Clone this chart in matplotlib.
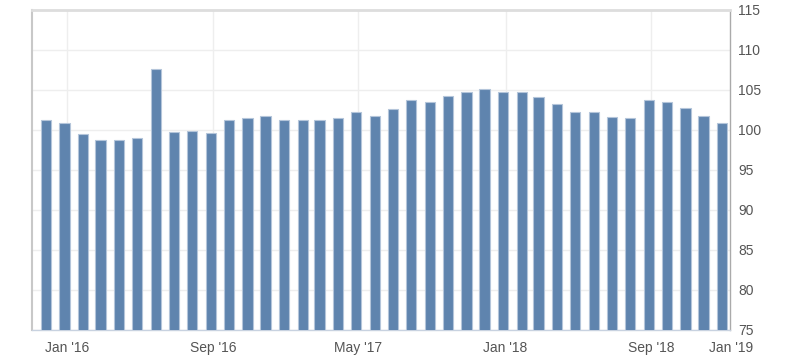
import matplotlib
matplotlib.use("Agg")
import matplotlib.pyplot as plt
import matplotlib.dates as mdates
import matplotlib.transforms as mtransforms
import numpy as np
import datetime as dt

plt.rcParams['font.family'] = ['Liberation Sans', 'DejaVu Sans']

# Monthly values, Dec 2015 .. Jan 2019
months = [dt.date(2015, 12, 1)] + [dt.date(2016 + (m // 12), m % 12 + 1, 1) for m in range(37)]
values = [101.2, 100.9, 99.5, 98.7, 98.7, 99.0, 107.6, 99.8, 99.9, 99.6,
          101.2, 101.5, 101.7, 101.2, 101.2, 101.2, 101.5, 102.3, 101.8, 102.6,
          103.7, 103.5, 104.3, 104.8, 105.1, 104.8, 104.8, 104.1, 103.3, 102.3,
          102.3, 101.6, 101.5, 103.7, 103.5, 102.7, 101.8, 100.9]
tick_dates = [dt.date(2016, 1, 1), dt.date(2016, 9, 1), dt.date(2017, 5, 1),
              dt.date(2018, 1, 1), dt.date(2018, 9, 1), dt.date(2019, 1, 1)]
tick_labels = ["Jan '16", "Sep '16", "May '17", "Jan '18", "Sep '18", "Jan '19"]
y_ticks = [75, 80, 85, 90, 95, 100, 105, 110, 115]

fig = plt.figure(figsize=(8, 3.62), dpi=100)
ax = fig.add_axes([0.04, 0.0884, 0.8725, 0.884])

x = mdates.date2num(months) - 4
ax.bar(x, values, width=17, bottom=0, color='#5f84ae', edgecolor='#b4c5da',
       linewidth=0.8, zorder=3)

ax.set_ylim(75, 115)
ax.set_xlim(mdates.date2num(dt.date(2015, 11, 4)), mdates.date2num(dt.date(2019, 1, 10)))
ax.set_yticks(y_ticks)
ax.yaxis.tick_right()
ax.set_xticks(mdates.date2num(tick_dates))
ax.set_xticklabels(tick_labels)
ax.tick_params(axis='both', length=0, labelsize=10, colors='#555555')
ax.tick_params(axis='y', pad=6)
ax.tick_params(axis='x', pad=8)

ax.grid(True, axis='y', color='#eeeeee', linewidth=1, zorder=0)
for d in tick_dates[:-1]:
    ax.axvline(mdates.date2num(d), color='#eeeeee', linewidth=1, zorder=0)

# shift last label slightly right, as in the reference
last = ax.get_xticklabels()[-1]
last.set_transform(last.get_transform() + mtransforms.ScaledTranslation(6 / 100, 0, fig.dpi_scale_trans))

for side, col, lw in [('top', '#dddddd', 2), ('left', '#c8c8c8', 1.5),
                      ('right', '#aaaaaa', 1), ('bottom', '#c8d2e0', 1)]:
    ax.spines[side].set_color(col)
    ax.spines[side].set_linewidth(lw)

fig.savefig('out.png', dpi=100)
